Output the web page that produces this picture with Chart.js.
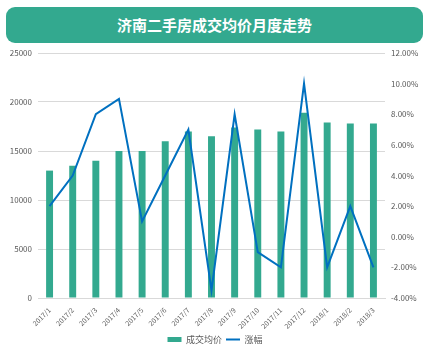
<!DOCTYPE html>
<html>
<head>
<meta charset="utf-8">
<script src="https://cdn.jsdelivr.net/npm/chart.js@4"></script>
<style>
  body { margin: 0; background: #fff; }
  #wrap { position: relative; width: 430px; height: 358px; }
  #title {
    position: absolute; left: 6px; top: 7px; width: 417px; height: 36px;
    background: #33a98f; border-radius: 9px; color: #fff;
    font: bold 15px "Noto Sans CJK SC", sans-serif; line-height: 36px; text-align: center;
  }
</style>
</head>
<body>
<div id="wrap">
  <canvas id="c" width="430" height="358"></canvas>
  <div id="title">济南二手房成交均价月度走势</div>
</div>
<script>
// 月份
var months = ["2017/1", "2017/2", "2017/3", "2017/4", "2017/5", "2017/6", "2017/7", "2017/8",
              "2017/9", "2017/10", "2017/11", "2017/12", "2018/1", "2018/2", "2018/3"];
// 成交均价 (元/㎡)
var avgPrice = [13000, 13500, 14000, 15000, 15000, 16000, 17000, 16500,
                17400, 17200, 17000, 18900, 17900, 17800, 17800];
// 涨幅 (%)
var growth = [2, 4, 8, 9, 1, 4, 7, -3.5, 8, -1, -2, 10, -2, 2, -2];

var txt = "#595959";
var fam = "'Noto Sans CJK SC', 'Liberation Sans', sans-serif";

new Chart(document.getElementById("c"), {
  data: {
    labels: months,
    datasets: [
      { type: "bar", label: "成交均价", data: avgPrice, yAxisID: "y",
        backgroundColor: "#33a98f", barPercentage: 0.6, categoryPercentage: 0.5,
        pointStyle: "rect", order: 1 },
      { type: "line", label: "涨幅", data: growth, yAxisID: "y1",
        borderColor: "#0070c0", backgroundColor: "#0070c0", borderWidth: 2,
        pointRadius: 0, tension: 0, pointStyle: "line", order: 0 }
    ]
  },
  options: {
    responsive: false,
    animation: false,
    layout: { padding: { top: 53, bottom: 4 } },
    plugins: {
      tooltip: { enabled: false },
      legend: {
        position: "bottom",
        labels: { usePointStyle: true, pointStyleWidth: 14, boxHeight: 5,
                  color: txt, font: { size: 9, family: fam }, padding: 4,
                  sort: function (a, b) { return a.datasetIndex - b.datasetIndex; } }
      }
    },
    scales: {
      x: {
        grid: { display: false },
        border: { color: "#d9d9d9" },
        ticks: { color: txt, font: { size: 7, family: fam }, minRotation: 45, maxRotation: 45, padding: 0 },
        afterFit: function (s) { s.height = 33; }
      },
      y: {
        position: "left", min: 0, max: 25000,
        ticks: { stepSize: 5000, color: txt, font: { size: 8, family: fam }, padding: 6,
                 callback: function (v) { return String(v); } },
        grid: { color: "#d9d9d9", drawTicks: false },
        border: { display: false },
        afterFit: function (s) { s.width = 38; }
      },
      y1: {
        position: "right", min: -4, max: 12,
        ticks: { stepSize: 2, color: txt, font: { size: 8, family: fam }, padding: 6,
                 callback: function (v) { return v.toFixed(2) + "%"; } },
        grid: { display: false, drawTicks: false },
        border: { display: false },
        afterFit: function (s) { s.width = 45; }
      }
    }
  }
});
</script>
</body>
</html>
